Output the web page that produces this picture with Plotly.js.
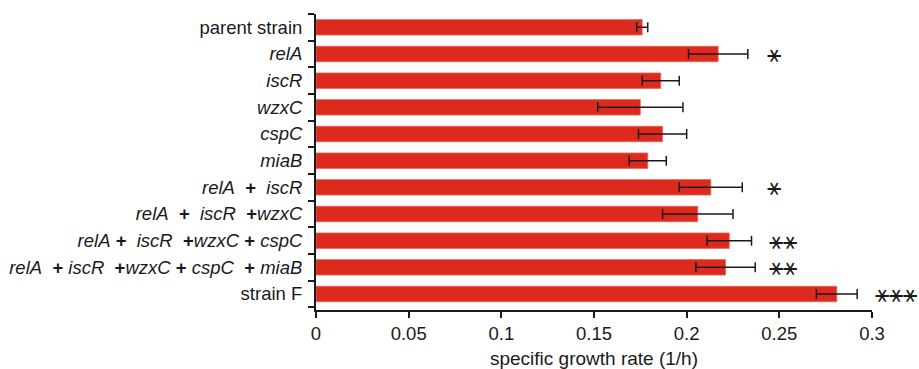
<!DOCTYPE html>
<html>
<head>
<meta charset="utf-8">
<script src="https://cdn.plot.ly/plotly-3.0.1.min.js"></script>
<style>html,body{margin:0;padding:0;background:#fff;}#chart{width:919px;height:369px;}</style>
</head>
<body>
<div id="chart"></div>
<script>
const categories = ["parent strain","relA","iscR","wzxC","cspC","miaB","relA+iscR","relA+iscR+wzxC","relA+iscR+wzxC+cspC","relA+iscR+wzxC+cspC+miaB","strain F"];
const tickLabels = [
  "parent strain",
  "<i>relA</i>",
  "<i>iscR</i>",
  "<i>wzxC</i>",
  "<i>cspC</i>",
  "<i>miaB</i>",
  "<i>relA</i>  <b>+</b>  <i>iscR</i>",
  "<i>relA</i>  <b>+</b>  <i>iscR</i>  <b>+</b><i>wzxC</i>",
  "<i>relA</i> <b>+</b>  <i>iscR</i>  <b>+</b><i>wzxC</i> <b>+</b> <i>cspC</i>",
  "<i>relA</i>  <b>+</b> <i>iscR</i>  <b>+</b><i>wzxC</i> <b>+</b> <i>cspC</i>  <b>+</b> <i>miaB</i>",
  "strain F"
];
const growthRate = [0.176, 0.217, 0.186, 0.175, 0.187, 0.179, 0.213, 0.206, 0.223, 0.221, 0.281];
const errorSD    = [0.003, 0.016, 0.010, 0.023, 0.013, 0.010, 0.017, 0.019, 0.012, 0.016, 0.011];
const significance = ["", "*", "", "", "", "", "*", "", "**", "**", "***"];
const sigX = [0, 0.2422, 0, 0, 0, 0, 0.2422, 0, 0.2432, 0.2432, 0.3008];
const xRange = [0, 0.3];
const xTicks = [0, 0.05, 0.1, 0.15, 0.2, 0.25, 0.3];
const xTickText = ["0", "0.05", "0.1", "0.15", "0.2", "0.25", "0.3"];

const font = {family: "Liberation Sans, Arial, sans-serif", size: 18.5, color: "#1a1a1a"};

const annotations = [];
categories.forEach((c, i) => {
  if (significance[i]) {
    annotations.push({
      x: (sigX[i] - xRange[0]) / (xRange[1] - xRange[0]), y: c, xref: "x domain", yref: "y",
      text: significance[i].replace(/\*/g, "⚹"),
      showarrow: false, xanchor: "left", yanchor: "middle",
      font: {family: "DejaVu Sans, sans-serif", size: 24, color: "#1a1a1a"}
    });
  }
});

const trace = {
  type: "bar", orientation: "h",
  y: categories, x: growthRate,
  width: 0.58,
  marker: {color: "#dd2a1d", line: {color: "#e66a5f", width: 0.8}},
  error_x: {type: "data", array: errorSD, visible: true, color: "#1a1a1a", thickness: 1.5, width: 5},
  hoverinfo: "none"
};

const layout = {
  width: 919, height: 369,
  margin: {l: 316, r: 47, t: 14, b: 59},
  paper_bgcolor: "#fff", plot_bgcolor: "#fff",
  font: font,
  showlegend: false,
  xaxis: {
    range: xRange, tickvals: xTicks, ticktext: xTickText,
    showgrid: false, zeroline: false,
    showline: true, linecolor: "#1a1a1a", linewidth: 2,
    ticks: "outside", ticklen: 6, tickwidth: 2, tickcolor: "#1a1a1a",
    tickfont: font,
    title: {text: "specific growth rate (1/h)", font: {family: font.family, size: 19, color: "#1a1a1a"}, standoff: 10},
    fixedrange: true
  },
  yaxis: {
    type: "category",
    categoryorder: "array", categoryarray: categories,
    tickmode: "array", tickvals: categories, ticktext: tickLabels,
    autorange: "reversed",
    tickson: "boundaries",
    showgrid: false, zeroline: false,
    showline: true, linecolor: "#1a1a1a", linewidth: 2,
    ticks: "outside", ticklen: 6, tickwidth: 2, tickcolor: "#1a1a1a",
    tickfont: font, ticklabelstandoff: 8,
    fixedrange: true
  },
  annotations: annotations
};

Plotly.newPlot("chart", [trace], layout, {displayModeBar: false, staticPlot: true});
</script>
</body>
</html>
